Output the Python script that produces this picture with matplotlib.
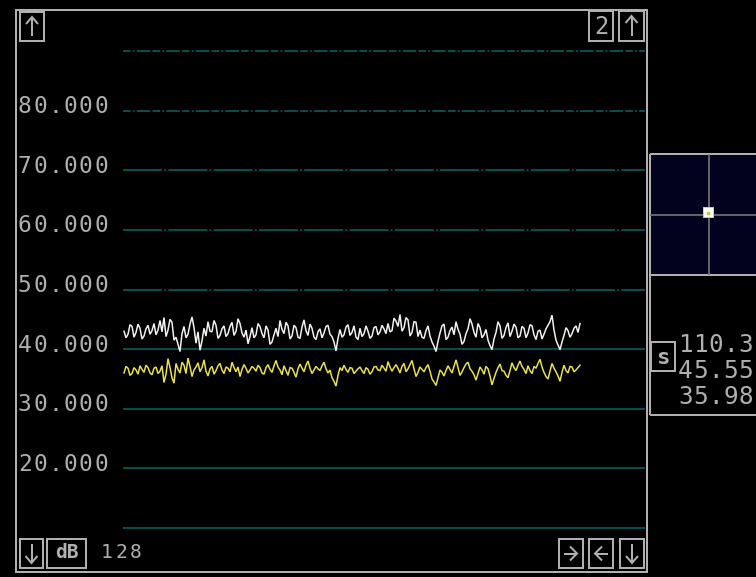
import matplotlib
matplotlib.use("Agg")
import matplotlib.pyplot as plt
from matplotlib.patches import Rectangle
from matplotlib.transforms import blended_transform_factory, offset_copy

# ---- data -------------------------------------------------------------
grid_levels = [10, 20, 30, 40, 50, 60, 70, 80, 90]
tick_levels = [20, 30, 40, 50, 60, 70, 80]
tick_labels = ["20.000", "30.000", "40.000", "50.000", "60.000", "70.000", "80.000"]

trace_white = [
    43.0, 41.9, 42.5, 44.1, 43.8, 42.0, 42.8, 44.2, 43.5, 41.7,
    42.2, 43.4, 44.0, 42.5, 43.1, 44.3, 42.4, 43.2, 44.8, 42.9,
    45.3, 42.1, 43.2, 45.0, 44.5, 41.5, 42.0, 40.8, 39.6, 42.6,
    43.8, 41.9, 42.5, 44.2, 45.4, 43.6, 41.0, 42.9, 39.8, 41.4,
    43.5, 42.2, 44.6, 43.0, 42.9, 44.8, 44.0, 41.8, 42.3, 43.4,
    43.9, 42.1, 42.6, 43.8, 44.5, 42.3, 43.0, 45.1, 44.3, 42.7,
    42.0, 43.2, 40.9, 42.1, 43.6, 41.9, 42.4, 44.3, 43.8, 42.6,
    41.9, 43.9, 43.2, 40.8, 41.2, 42.4, 43.5, 42.1, 44.8, 43.3,
    42.6, 44.5, 43.9, 41.7, 42.2, 44.0, 43.6, 42.0, 41.8, 43.7,
    44.9, 43.1, 42.3, 44.2, 43.5, 42.0, 41.6, 42.9, 43.4, 41.9,
    42.7, 43.8, 44.0, 42.5, 42.1, 41.2, 39.7, 41.8, 43.3, 42.0,
    42.4, 43.7, 44.1, 42.3, 42.8, 43.9, 42.0, 41.6, 43.5, 42.1,
    42.6, 43.9, 43.0, 41.8, 42.2, 43.6, 43.8, 42.4, 42.9, 44.0,
    43.4, 42.6, 44.3, 42.9, 43.1, 45.2, 44.7, 43.8, 45.8, 43.0,
    43.6, 45.3, 44.9, 42.2, 42.8, 44.6, 44.5, 42.1, 43.2, 42.0,
    41.8, 43.1, 43.9, 42.2, 41.2, 40.5, 39.6, 41.3, 42.7, 43.9,
    44.2, 41.6, 42.0, 43.1, 43.7, 42.4, 44.6, 43.3, 42.5, 40.8,
    41.3, 42.6, 43.4, 45.1, 44.2, 42.8, 42.0, 44.3, 43.6, 41.9,
    42.4, 43.3, 41.5, 40.6, 39.9, 41.7, 42.8, 44.6, 43.9, 41.8,
    42.3, 43.6, 44.4, 42.1, 43.0, 44.2, 43.7, 41.9, 42.2, 43.8,
    43.5, 41.9, 42.7, 44.1, 43.9, 42.4, 41.6, 43.0, 43.2, 41.7,
    42.5, 43.4, 44.0, 44.6, 45.7, 43.2, 41.5, 40.7, 39.9, 41.2,
    42.3, 43.6, 43.1, 42.0, 42.6, 43.5, 43.9, 42.8, 44.3,
]
trace_yellow = [
    36.0, 37.1, 36.8, 35.6, 35.9, 36.9, 36.5, 35.8, 37.2, 36.6,
    36.1, 37.3, 36.9, 36.0, 35.7, 36.8, 37.0, 35.9, 36.3, 37.2,
    34.4, 35.8, 38.4, 36.9, 35.2, 34.3, 37.6, 36.6, 36.0, 37.8,
    37.3, 35.9, 38.5, 37.1, 35.4, 36.5, 37.0, 37.7, 36.2, 36.9,
    38.2, 36.3, 35.5, 36.7, 37.1, 35.8, 36.4, 37.2, 37.6, 36.5,
    35.9, 37.0, 36.8, 36.2, 37.8, 36.9, 36.2, 37.0, 35.4, 36.6,
    37.4, 36.8, 36.0, 36.5, 37.1, 36.8, 36.3, 37.3, 36.9, 36.0,
    35.8, 36.9, 37.4, 36.6, 36.1, 37.2, 38.1, 37.0, 36.5, 35.7,
    37.2, 36.4, 35.6, 36.9, 36.8, 36.1, 35.3, 36.7, 37.5, 36.8,
    36.2, 37.3, 38.0, 36.8, 35.9, 36.5, 37.1, 36.7, 36.4, 37.2,
    37.8, 36.7, 36.0, 36.5, 35.2, 34.6, 33.8, 35.6, 36.9, 36.4,
    37.3, 36.6, 36.1, 36.9, 36.8, 35.9, 36.3, 36.7, 37.0, 36.4,
    35.9, 36.9, 36.6, 35.8, 36.2, 37.0, 37.1, 36.5, 36.4, 37.3,
    36.8, 36.3, 37.9, 37.0, 36.3, 36.9, 37.4, 36.8, 36.0, 37.1,
    37.6, 36.2, 36.7, 37.4, 38.1, 36.7, 35.4, 36.1, 37.0, 36.6,
    36.2, 36.9, 37.4, 36.3, 35.0, 34.5, 33.9, 35.2, 36.5, 36.1,
    35.5, 36.4, 37.2, 36.6, 36.0, 37.1, 38.2, 36.9, 35.6, 36.2,
    36.9, 37.5, 37.8, 36.7, 36.3, 35.7, 34.8, 35.9, 37.0, 36.5,
    35.8, 37.1, 36.7, 35.5, 34.0, 35.1, 36.1, 36.9, 37.5, 36.4,
    36.3, 35.6, 35.2, 36.4, 37.7, 36.9, 36.4, 37.3, 38.0, 37.1,
    36.6, 35.9, 37.2, 36.4, 35.9, 37.1, 36.8, 37.6, 38.3, 37.0,
    36.1, 35.4, 35.0, 36.3, 37.6, 36.8, 36.2, 35.5, 34.6, 36.1,
    37.3, 36.4, 36.0, 37.1, 37.0, 36.2, 36.5, 36.9, 37.3,
]
samples = list(range(len(trace_white)))

readout = ["110.3", "45.55", "35.98"]
point_count = "128"

# ---- styling ----------------------------------------------------------
W, H, DPI = 756, 577, 100
GRAY = "#b0b0b0"
GRID = "#0b6668"
NAVY = "#02021e"
MONO = "DejaVu Sans Mono"

fig = plt.figure(figsize=(W / DPI, H / DPI), dpi=DPI, facecolor="black")

# Pixel-space canvas for the frame, buttons and side panel
bg = fig.add_axes([0, 0, 1, 1])
bg.set_xlim(0, W)
bg.set_ylim(H, 0)
bg.set_facecolor("black")
bg.axis("off")

px = 72.0 / DPI  # one pixel in points


def mono(x_left, y_base, s, adv, size, color=GRAY, trans=None, weight="normal"):
    """Draw a string on a fixed character grid."""
    for i, ch in enumerate(s):
        bg.text(x_left + adv * (i + 0.5), y_base, ch, ha="center", va="baseline",
                family=MONO, fontsize=size, color=color, fontweight=weight,
                transform=trans if trans is not None else bg.transData)


def box(x0, y0, x1, y1, color=GRAY, lw=2.0):
    bg.add_patch(Rectangle((x0, y0), x1 - x0, y1 - y0, fill=False,
                           edgecolor=color, linewidth=lw * px))


def seg(pts, color=GRAY, lw=2.0):
    xs, ys = zip(*pts)
    bg.plot(xs, ys, color=color, linewidth=lw * px, solid_capstyle="butt",
            solid_joinstyle="miter")


# main frame
box(16, 10, 647, 572)

# ---- plot area --------------------------------------------------------
x0p, x1p, y0p, y1p = 123, 645, 40, 540
ax = fig.add_axes([x0p / W, (H - y1p) / H, (x1p - x0p) / W, (y1p - y0p) / H])
ax.set_facecolor("none")
ppu = (528 - 51) / 80.0  # pixels per dB
ax.set_ylim(10 - (y1p - 528) / ppu, 90 + (51 - y0p) / ppu)
ax.set_xlim(-0.5, -0.5 + (x1p - x0p) / 2.0)
ax.axis("off")

for lvl in grid_levels:
    if lvl >= 80:
        dashes = (5, 1.5, 1.2, 1.5, 9, 1.5)
    elif lvl >= 50:
        dashes = (26, 1.5, 1.2, 1.5)
    else:
        dashes = None
    kw = dict(color=GRID, linewidth=1.5 * px, zorder=1)
    if dashes:
        ax.axhline(lvl, dashes=dashes, **kw)
    else:
        ax.axhline(lvl, **kw)

ax.plot(samples, trace_white, color="#f2f2f2", linewidth=1.5 * px, zorder=3,
        solid_joinstyle="miter")
ax.plot(samples, trace_yellow, color="#ece24a", linewidth=1.5 * px, zorder=3,
        solid_joinstyle="miter")

# y tick labels, baseline just under each grid line
lab_trans = offset_copy(blended_transform_factory(bg.transData, ax.transData),
                        fig=fig, y=-2.5, units="dots")
for lvl, lab in zip(tick_levels, tick_labels):
    mono(17, lvl, lab, 15.3, 16.5, trans=lab_trans)

# ---- corner buttons ---------------------------------------------------
def up_arrow(cx, top, bot):
    seg([(cx, top), (cx, bot)])
    seg([(cx - 6, top + 7), (cx, top), (cx + 6, top + 7)])


def down_arrow(cx, top, bot):
    seg([(cx, top), (cx, bot)])
    seg([(cx - 6, bot - 7), (cx, bot), (cx + 6, bot - 7)])


def right_arrow(cx, cy):
    seg([(cx - 7, cy), (cx + 6, cy)])
    seg([(cx - 1, cy - 7), (cx + 6, cy), (cx - 1, cy + 7)])


def left_arrow(cx, cy):
    seg([(cx - 6, cy), (cx + 7, cy)])
    seg([(cx + 1, cy - 7), (cx - 6, cy), (cx + 1, cy + 7)])


# top-left
box(20, 12, 44, 41)
up_arrow(32, 17, 36)
# top-right
box(589, 11, 613, 41)
bg.text(601, 33.5, "2", ha="center", va="baseline", family=MONO,
        fontsize=17, color=GRAY)
box(619, 11, 644, 41)
up_arrow(631.5, 16, 36)
# bottom-left
box(20, 539, 43, 568)
down_arrow(31.5, 544, 563)
box(47, 539, 86, 568)
bg.text(66.5, 558, "dB", ha="center", va="baseline", family=MONO,
        fontsize=14, color=GRAY, fontweight="bold")
mono(99, 558, point_count, 14.6, 14)
# bottom-right
box(559, 539, 583, 568)
right_arrow(571, 553.5)
box(589, 539, 613, 568)
left_arrow(601, 553.5)
box(620, 539, 644, 568)
down_arrow(632, 544, 563)

# ---- side panel -------------------------------------------------------
bg.add_patch(Rectangle((650, 154), 120, 121, facecolor=NAVY, edgecolor="none"))
seg([(650, 154), (760, 154)])
seg([(650, 275), (760, 275)])
seg([(650, 154), (650, 415)])
seg([(650, 415), (760, 415)])
seg([(708.5, 154), (708.5, 275)], color="#7a7a7a", lw=1.6)
seg([(650, 215), (760, 215)], color="#7a7a7a", lw=1.6)
bg.add_patch(Rectangle((703, 207), 10, 10, facecolor="white",
                       edgecolor="#c8c8c8", linewidth=1 * px, zorder=5))
bg.plot([708], [213], marker="s", markersize=1.5, color="#d0c020", zorder=6)

box(651, 342, 675, 371)
bg.text(663, 364, "s", ha="center", va="baseline", family=MONO,
        fontsize=16, color=GRAY, fontweight="bold")
for k, val in enumerate(readout):
    mono(678, 352 + 26 * k, val, 15.0, 17.5)

fig.savefig("out.png", dpi=DPI, facecolor="black")
